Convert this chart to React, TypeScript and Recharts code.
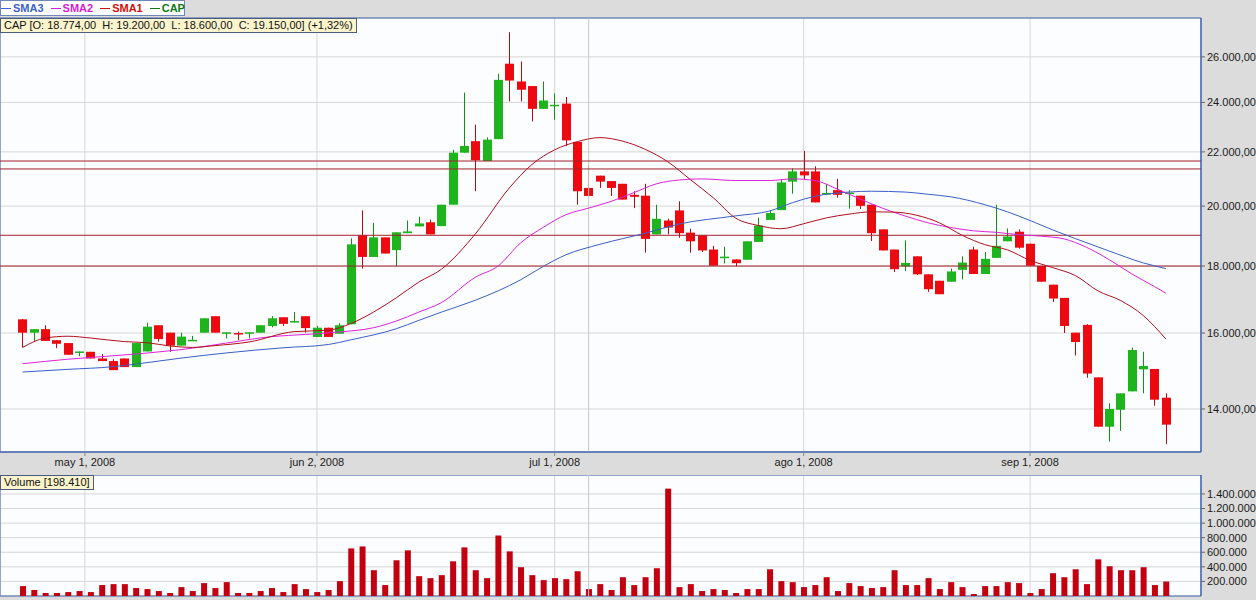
import React from 'react'
import { ComposedChart, Bar, Line, XAxis, YAxis, CartesianGrid, ReferenceLine, ReferenceArea } from 'recharts'

// eixo de datas (indice do pregao) e rotulos
const dateTicks = [5.5, 26, 47, 69, 89]
const dateLabels = ['may 1, 2008', 'jun 2, 2008', 'jul 1, 2008', 'ago 1, 2008', 'sep 1, 2008']
const priceTicks = [14000, 16000, 18000, 20000, 22000, 24000, 26000]
const volumeTicks = [200000, 400000, 600000, 800000, 1000000, 1200000, 1400000]
const levels = [21650, 21350, 19000, 18000]
const cursorAt = 50

const opens = [
  16390, 16010, 16110, 15800, 15720, 15470, 15480, 15300, 15230, 15300,
  15070, 15490, 16220, 16010, 15650, 15790, 16010, 16480, 16000, 16000,
  16000, 16010, 16200, 16450, 16300, 16480, 15890, 16150, 15980, 16250,
  19000, 18290, 18930, 18510, 19070, 19300, 19440, 19310, 20050, 21970,
  22420, 21650, 22500, 25690, 24900, 24700, 23730, 23860, 23950, 22390,
  20650, 21100, 20900, 20800, 20400, 20370, 19030, 19500, 19850, 19090,
  19000, 18530, 18250, 18210, 18200, 18780, 19520, 19860, 20880, 21260,
  21260, 20410, 20570, 20460, 20370, 20050, 19200, 18530, 17990, 18310,
  17740, 17540, 17510, 17880, 18530, 17750, 18260, 18800, 19120, 18720,
  18000, 17420, 17020, 16010, 16230, 14800, 13570, 13980, 14440, 15010,
  15020, 14280,
]
const highs = [
  16400, 16110, 16220, 15800, 15720, 15490, 15480, 15420, 15280, 15300,
  15720, 16290, 16220, 16010, 16010, 15920, 16420, 16480, 16020, 16040,
  16020, 16220, 16480, 16450, 16600, 16480, 16200, 16150, 16280, 18900,
  19850, 19420, 18930, 19100, 19500, 19630, 19530, 20050, 22080, 24420,
  23080, 22570, 25240, 27150, 25790, 24700, 24900, 24380, 24230, 22390,
  21490, 21100, 20900, 20800, 20530, 20800, 20050, 19560, 20170, 19220,
  19000, 18650, 18620, 18210, 18800, 19600, 19850, 20950, 21370, 22040,
  21450, 20800, 20980, 20570, 20370, 20050, 19200, 18530, 18830, 18310,
  17740, 17540, 17920, 18310, 18620, 18450, 20050, 19230, 19200, 18720,
  18000, 17420, 17020, 16010, 16250, 14800, 14140, 14390, 15600, 15480,
  15020, 14390,
]
const lows = [
  15600, 15780, 15780, 15580, 15400, 15360, 15300, 15230, 14990, 15070,
  15070, 15490, 15760, 15480, 15650, 15790, 16010, 16010, 15850, 15800,
  15850, 16010, 16160, 16200, 16300, 16010, 15890, 15890, 15980, 16250,
  17920, 18290, 18400, 17990, 19070, 19300, 19030, 19310, 20050, 21970,
  20530, 21650, 22500, 24040, 24040, 23210, 23730, 23280, 22230, 20050,
  20360, 20650, 20360, 20230, 19930, 18430, 19030, 19030, 18920, 18430,
  18450, 18010, 18080, 17990, 18200, 18780, 19520, 19860, 20440, 20950,
  20130, 20410, 20300, 19910, 19900, 18810, 18500, 17810, 17840, 17720,
  17200, 17130, 17510, 17580, 17750, 17750, 18260, 18800, 18560, 18010,
  17510, 16900, 16000, 15380, 14790, 13570, 13220, 13470, 14440, 14390,
  14080, 13160,
]
const closes = [
  16010, 16110, 15780, 15700, 15400, 15490, 15300, 15230, 14990, 15070,
  15720, 16180, 15830, 15650, 15900, 15810, 16420, 16010, 16020, 15980,
  16020, 16220, 16420, 16260, 16340, 16140, 16150, 15890, 16220, 18700,
  18290, 18930, 18400, 19100, 19130, 19400, 19030, 20050, 21970, 22230,
  21680, 22480, 24970, 24940, 24540, 23730, 24080, 23900, 22450, 20530,
  20360, 20880, 20650, 20230, 20330, 18880, 19560, 19260, 19070, 18800,
  18500, 18010, 18300, 18090, 18800, 19330, 19760, 20850, 21260, 21110,
  20130, 20470, 20400, 20480, 20010, 19070, 18500, 17900, 18100, 17740,
  17280, 17130, 17830, 18110, 17750, 18230, 18650, 18960, 18590, 18010,
  17510, 17000, 16200, 15750, 14900, 13570, 14000, 14390, 15530, 15100,
  14230, 13620,
]
const volumes = [
  136000, 82000, 41000, 41000, 54000, 68000, 54000, 150000, 163000, 163000,
  109000, 95000, 68000, 41000, 122000, 68000, 177000, 109000, 190000, 41000,
  41000, 68000, 109000, 54000, 163000, 95000, 54000, 82000, 204000, 653000,
  680000, 354000, 150000, 490000, 626000, 272000, 245000, 286000, 476000, 667000,
  354000, 245000, 830000, 612000, 395000, 286000, 218000, 245000, 231000, 340000,
  95000, 163000, 82000, 258000, 150000, 258000, 381000, 1473000, 122000, 163000,
  68000, 95000, 82000, 41000, 95000, 95000, 367000, 204000, 190000, 122000,
  150000, 258000, 68000, 177000, 136000, 109000, 122000, 354000, 150000, 150000,
  245000, 95000, 190000, 122000, 27000, 136000, 136000, 190000, 177000, 41000,
  95000, 313000, 258000, 367000, 163000, 503000, 408000, 354000, 354000, 395000,
  150000, 198410,
]

// medias moveis: [indice, valor]
const sma1 = [
  [0, 15600], [2, 15860], [4, 15910], [6, 15860], [9, 15760], [11, 15730], [13, 15640], [15, 15600],
  [17, 15650], [20, 15750], [24, 16040], [27, 16080], [29, 16270], [31, 16600], [33, 17020], [35, 17500],
  [37, 17900], [40, 19050], [43, 20650], [45, 21520], [47, 22080], [49, 22400], [51, 22560], [53, 22420],
  [55, 22100], [57, 21620], [59, 20950], [61, 20300], [63, 19580], [65, 19330], [67, 19220], [69, 19390],
  [71, 19590], [73, 19720], [75, 19800], [77, 19790], [79, 19680], [81, 19420], [83, 19000], [85, 18690],
  [87, 18520], [89, 18180], [91, 17950], [93, 17700], [95, 17230], [97, 16940], [99, 16500], [101, 15830],
]
const sma2 = [
  [0, 15160], [4, 15280], [10, 15420], [15, 15580], [18, 15720], [22, 15900], [25, 15960], [28, 16030],
  [31, 16150], [33, 16340], [35, 16600], [37, 16880], [40, 17650], [42, 18000], [44, 18750], [46, 19270],
  [48, 19700], [50, 19930], [52, 20170], [54, 20480], [56, 20800], [58, 20940], [60, 20980], [63, 20920],
  [66, 20920], [68, 20980], [70, 20920], [72, 20600], [74, 20250], [76, 19920], [78, 19650], [80, 19420],
  [82, 19260], [84, 19150], [86, 19100], [88, 19020], [90, 18970], [92, 18880], [94, 18600], [96, 18200],
  [98, 17750], [100, 17360], [101, 17160],
]
const sma3 = [
  [0, 14940], [4, 15010], [8, 15080], [10, 15150], [14, 15310], [18, 15450], [23, 15590], [27, 15680],
  [29, 15810], [33, 16120], [35, 16360], [37, 16600], [40, 16950], [44, 17570], [46, 17990], [48, 18360],
  [51, 18700], [55, 19070], [58, 19380], [63, 19660], [66, 19830], [68, 20120], [70, 20350], [73, 20500],
  [75, 20530], [78, 20500], [80, 20420], [82, 20330], [85, 20050], [87, 19800], [89, 19500], [91, 19180],
  [93, 18890], [96, 18480], [99, 18100], [101, 17920],
]

const X_DOMAIN: [number, number] = [-2, 104.1]
const PRICE_DOMAIN: [number, number] = [12980, 27840]
const VOLUME_DOMAIN: [number, number] = [0, 1660000]

const BORDER = '#3f63a8'
const GRID = '#d6d6d6'
const FONT = "'Liberation Sans', Arial, sans-serif"

const candles = opens.map((o, i) => ({
  i,
  open: o,
  high: highs[i],
  low: lows[i],
  close: closes[i],
  range: [lows[i], highs[i]],
  volume: volumes[i],
}))

const toPoints = (arr: number[][]) => arr.map(([i, v]) => ({ i, v }))

const dots = (n: number) => String(Math.round(n)).replace(/\B(?=(\d{3})+(?!\d))/g, '.')
const fmtPrice = (n: number) => `${dots(n)},00`
const fmtDate = (v: number) => {
  const k = dateTicks.indexOf(v)
  return k >= 0 ? dateLabels[k] : ''
}

// vela desenhada a partir da barra [min, max] (escala log no eixo y)
const Candle = (props: any) => {
  const { x, y, width, height, payload } = props
  if (x == null || y == null || !payload) return null
  const top = Math.min(y, y + height)
  const h = Math.abs(height)
  const lh = Math.log(payload.high)
  const ll = Math.log(payload.low)
  const toY = (v: number) => (lh === ll ? top : top + ((lh - Math.log(v)) / (lh - ll)) * h)
  const up = payload.close >= payload.open
  const body = up ? '#1eb41e' : '#ec0a10'
  const wick = up ? '#138f13' : '#b50a0e'
  const cx = Math.round(x + width / 2) + 0.5
  const yo = toY(payload.open)
  const yc = toY(payload.close)
  const bt = Math.min(yo, yc)
  const bh = Math.max(1.5, Math.abs(yo - yc))
  return (
    <g>
      <line x1={cx} x2={cx} y1={top} y2={top + h} stroke={wick} strokeWidth={1} />
      <rect x={cx - 4.5} y={bt} width={9} height={bh} fill={body} />
    </g>
  )
}

const legendItems = [
  { name: 'SMA3', color: '#3d5fd0' },
  { name: 'SMA2', color: '#d41ed4' },
  { name: 'SMA1', color: '#d01010' },
  { name: 'CAP', color: '#107a10' },
]

const boxStyle: React.CSSProperties = {
  position: 'absolute',
  left: 0,
  height: 13,
  lineHeight: '13px',
  fontSize: 11,
  border: '1px solid #4c5c80',
  whiteSpace: 'pre',
  padding: '0 3px',
  color: '#111',
}

export default function App() {
  return (
    <div
      style={{
        position: 'absolute',
        left: 0,
        top: 0,
        width: 1256,
        height: 600,
        background: '#dcdcdc',
        fontFamily: FONT,
        overflow: 'hidden',
      }}
    >
      <ComposedChart
        width={1256}
        height={475}
        data={candles}
        margin={{ top: 18, right: 0, bottom: 0, left: 0 }}
        style={{ position: 'absolute', left: 0, top: 0 }}
      >
        <CartesianGrid stroke={GRID} fill="#fcfdfe" />
        <XAxis
          dataKey="i"
          type="number"
          domain={X_DOMAIN}
          allowDataOverflow
          ticks={dateTicks}
          interval={0}
          tickFormatter={fmtDate}
          height={23}
          tickSize={4}
          tickMargin={2}
          axisLine={{ stroke: BORDER }}
          tickLine={{ stroke: '#8a8a8a' }}
          tick={{ fontSize: 11, fill: '#1a1a1a' }}
        />
        <YAxis
          orientation="right"
          type="number"
          scale="log"
          domain={PRICE_DOMAIN}
          allowDataOverflow
          ticks={priceTicks}
          interval={0}
          tickFormatter={fmtPrice}
          width={55}
          tickSize={4}
          tickMargin={2}
          axisLine={{ stroke: BORDER }}
          tickLine={{ stroke: '#666' }}
          tick={{ fontSize: 11, fill: '#1a1a1a', textAnchor: 'start' }}
        />
        <ReferenceLine x={cursorAt} stroke="#c8c8c8" />
        {levels.map((lv) => (
          <ReferenceLine key={lv} y={lv} stroke="#a3202c" strokeWidth={1} />
        ))}
        <Line data={toPoints(sma3)} dataKey="v" type="monotone" stroke="#3a5fc8" strokeWidth={1} dot={false} isAnimationActive={false} />
        <Line data={toPoints(sma2)} dataKey="v" type="monotone" stroke="#dd22dd" strokeWidth={1} dot={false} isAnimationActive={false} />
        <Line data={toPoints(sma1)} dataKey="v" type="monotone" stroke="#b0101c" strokeWidth={1} dot={false} isAnimationActive={false} />
        <Bar dataKey="range" barSize={9} shape={<Candle />} isAnimationActive={false} />
        <ReferenceArea x1={X_DOMAIN[0]} x2={X_DOMAIN[1]} y1={PRICE_DOMAIN[0]} y2={PRICE_DOMAIN[1]} fill="none" stroke={BORDER} fillOpacity={0} />
      </ComposedChart>

      <ComposedChart
        width={1256}
        height={125}
        data={candles}
        margin={{ top: 0, right: 0, bottom: 4, left: 0 }}
        style={{ position: 'absolute', left: 0, top: 475 }}
      >
        <CartesianGrid stroke={GRID} fill="#fcfdfe" />
        <XAxis dataKey="i" type="number" domain={X_DOMAIN} allowDataOverflow ticks={dateTicks} interval={0} hide />
        <YAxis
          orientation="right"
          type="number"
          domain={VOLUME_DOMAIN}
          allowDataOverflow
          ticks={volumeTicks}
          interval={0}
          tickFormatter={dots}
          width={55}
          tickSize={4}
          tickMargin={2}
          axisLine={{ stroke: BORDER }}
          tickLine={{ stroke: '#666' }}
          tick={{ fontSize: 11, fill: '#1a1a1a', textAnchor: 'start' }}
        />
        <ReferenceLine x={cursorAt} stroke="#c8c8c8" />
        <Bar dataKey="volume" barSize={6} fill="#c20010" isAnimationActive={false} />
        <ReferenceArea x1={X_DOMAIN[0]} x2={X_DOMAIN[1]} y1={VOLUME_DOMAIN[0]} y2={VOLUME_DOMAIN[1]} fill="none" stroke={BORDER} fillOpacity={0} />
      </ComposedChart>

      {/* legenda das series */}
      <div
        style={{
          position: 'absolute',
          left: 0,
          top: 0,
          height: 14,
          width: 183,
          background: '#fff',
          border: '1px solid #6e86b8',
          display: 'flex',
          alignItems: 'center',
          fontSize: 11,
          fontWeight: 'bold',
        }}
      >
        {legendItems.map((it) => (
          <span key={it.name} style={{ display: 'flex', alignItems: 'center', marginRight: 7, color: it.color }}>
            <span style={{ display: 'inline-block', width: 10, height: 1, background: it.color, marginRight: 2 }} />
            {it.name}
          </span>
        ))}
      </div>
      <div style={{ ...boxStyle, top: 18, background: '#fbf4cc' }}>
        {'CAP [O: 18.774,00  H: 19.200,00  L: 18.600,00  C: 19.150,00] (+1,32%)'}
      </div>
      <div style={{ ...boxStyle, top: 475, background: '#fbf4cc' }}>{`Volume [${dots(volumes[volumes.length - 1])}]`}</div>
    </div>
  )
}
